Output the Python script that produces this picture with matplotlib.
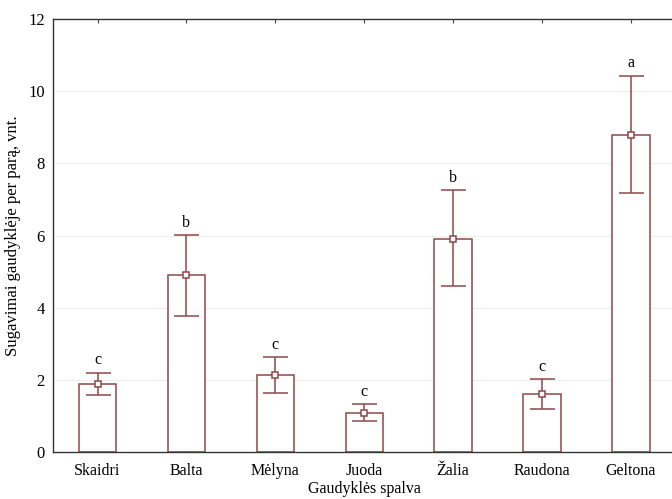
import numpy as np
import matplotlib.pyplot as plt

plt.rcParams['font.family'] = ['Liberation Serif', 'DejaVu Serif']

spalvos = ['Skaidri', 'Balta', 'Mėlyna', 'Juoda', 'Žalia', 'Raudona', 'Geltona']
vidurkiai = [1.88, 4.90, 2.13, 1.08, 5.91, 1.60, 8.79]
virsus = [2.20, 6.01, 2.63, 1.33, 7.25, 2.02, 10.43]
apacia = [1.57, 3.77, 1.63, 0.86, 4.60, 1.19, 7.17]
raides = ['c', 'b', 'c', 'c', 'b', 'c', 'a']

spalva = '#8e4848'

x = np.arange(len(spalvos))
vid = np.array(vidurkiai)
yerr = [vid - np.array(apacia), np.array(virsus) - vid]

fig = plt.figure(figsize=(6.72, 4.99), dpi=100)
ax = fig.add_axes([0.079, 0.094, 0.926, 0.868])

ax.bar(x, vid, width=0.42, facecolor='white', edgecolor=spalva, linewidth=1.1, zorder=2)
ax.errorbar(x, vid, yerr=yerr, fmt='s', color=spalva, markerfacecolor='white',
            markeredgecolor=spalva, markersize=5, markeredgewidth=1.1,
            capsize=9, elinewidth=1.1, capthick=1.1, zorder=3)

for xi, top, r in zip(x, virsus, raides):
    ax.text(xi, top + 0.12, r, ha='center', va='bottom', fontsize=11.5)

ax.set_xlim(-0.5, 6.5)
ax.set_ylim(0, 12)
ax.set_yticks(range(0, 13, 2))
ax.set_xticks(x)
ax.set_xticklabels(spalvos, fontsize=11.5)
ax.tick_params(axis='y', labelsize=12, direction='in', length=0, pad=6)
ax.tick_params(axis='x', direction='in', length=3, top=True, pad=8, color='#444444')
ax.yaxis.grid(True, color='#eeeeee', linewidth=0.8, zorder=0)
ax.set_axisbelow(True)
for s in ax.spines.values():
    s.set_color('#333333')
    s.set_linewidth(1.0)

ax.set_ylabel('Sugavimai gaudyklėje per parą, vnt.', fontsize=12, labelpad=5)
ax.set_xlabel('Gaudyklės spalva', fontsize=11.5, labelpad=1)

fig.savefig('out.png', dpi=100)
